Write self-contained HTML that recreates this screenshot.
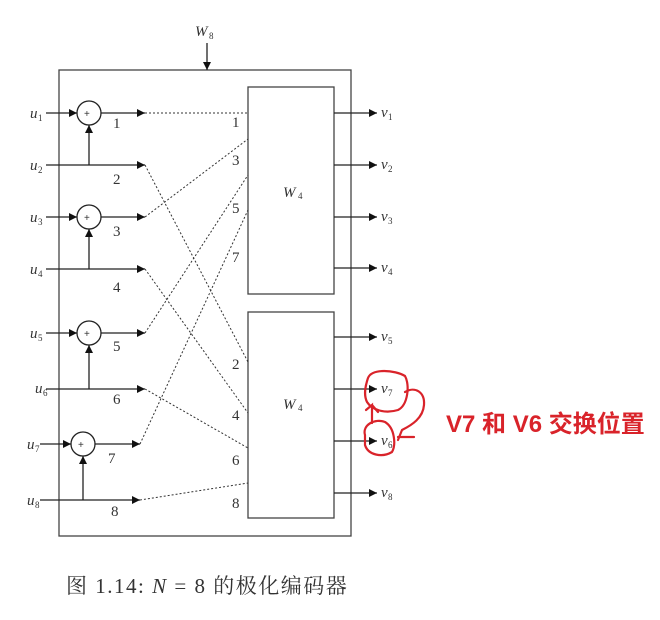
<!DOCTYPE html>
<html><head><meta charset="utf-8"><style>
html,body{margin:0;padding:0;background:#fff;}
svg{display:block;}
.i{font-family:"Liberation Serif",serif;font-style:italic;font-size:15px;fill:#333;}
.s{font-family:"Liberation Serif",serif;font-size:9px;fill:#333;}
.n{font-family:"Liberation Serif",serif;font-size:15px;fill:#333;}
</style></head><body>
<svg width="660" height="620" viewBox="0 0 660 620" xmlns="http://www.w3.org/2000/svg">
<defs>
<marker id="a" viewBox="0 0 10 10" refX="10" refY="5" markerWidth="12" markerHeight="8" markerUnits="userSpaceOnUse" orient="auto"><path d="M0,0L10,5L0,10z" fill="#111"/></marker>
</defs>
<g stroke="#444" stroke-width="1.3" fill="none">
<rect x="59" y="70" width="292" height="466"/>
<rect x="248" y="87" width="86" height="207"/>
<rect x="248" y="312" width="86" height="206"/>
</g>
<line x1="207" y1="43" x2="207" y2="70" stroke="#222" stroke-width="1.3" marker-end="url(#a)"/>
<text x="195" y="36" class="i">W</text><text x="209" y="39" class="s">8</text>

<g stroke="#222" stroke-width="1.3" fill="none">
<circle cx="89" cy="113" r="12"/><circle cx="89" cy="217" r="12"/><circle cx="89" cy="333" r="12"/><circle cx="83" cy="444" r="12"/>
<line x1="46" y1="113" x2="77" y2="113" marker-end="url(#a)"/>
<line x1="101" y1="113" x2="145" y2="113" marker-end="url(#a)"/>
<line x1="46" y1="217" x2="77" y2="217" marker-end="url(#a)"/>
<line x1="101" y1="217" x2="145" y2="217" marker-end="url(#a)"/>
<line x1="46" y1="333" x2="77" y2="333" marker-end="url(#a)"/>
<line x1="101" y1="333" x2="145" y2="333" marker-end="url(#a)"/>
<line x1="40" y1="444" x2="71" y2="444" marker-end="url(#a)"/>
<line x1="95" y1="444" x2="140" y2="444" marker-end="url(#a)"/>
<line x1="46" y1="165" x2="145" y2="165" marker-end="url(#a)"/>
<line x1="46" y1="269" x2="145" y2="269" marker-end="url(#a)"/>
<line x1="46" y1="389" x2="145" y2="389" marker-end="url(#a)"/>
<line x1="40" y1="500" x2="140" y2="500" marker-end="url(#a)"/>
<line x1="89" y1="165" x2="89" y2="125" marker-end="url(#a)"/>
<line x1="89" y1="269" x2="89" y2="229" marker-end="url(#a)"/>
<line x1="89" y1="389" x2="89" y2="345" marker-end="url(#a)"/>
<line x1="83" y1="500" x2="83" y2="456" marker-end="url(#a)"/>
<line x1="334" y1="113" x2="377" y2="113" marker-end="url(#a)"/>
<line x1="334" y1="165" x2="377" y2="165" marker-end="url(#a)"/>
<line x1="334" y1="217" x2="377" y2="217" marker-end="url(#a)"/>
<line x1="334" y1="268" x2="377" y2="268" marker-end="url(#a)"/>
<line x1="334" y1="337" x2="377" y2="337" marker-end="url(#a)"/>
<line x1="334" y1="389" x2="377" y2="389" marker-end="url(#a)"/>
<line x1="334" y1="441" x2="377" y2="441" marker-end="url(#a)"/>
<line x1="334" y1="493" x2="377" y2="493" marker-end="url(#a)"/>
</g>
<g fill="#333" font-family="Liberation Sans,sans-serif" font-size="10"><text x="84" y="117">+</text><text x="84" y="221">+</text><text x="84" y="337">+</text><text x="78" y="448">+</text></g>
<g stroke="#333" stroke-width="1" stroke-dasharray="2,2" fill="none">
<line x1="145" y1="113" x2="248" y2="113"/>
<line x1="145" y1="165" x2="248" y2="362"/>
<line x1="145" y1="217" x2="248" y2="139"/>
<line x1="145" y1="269" x2="248" y2="413"/>
<line x1="145" y1="333" x2="248" y2="175"/>
<line x1="145" y1="389" x2="248" y2="448"/>
<line x1="140" y1="444" x2="248" y2="210"/>
<line x1="140" y1="500" x2="248" y2="483"/>
</g>
<g>
<text x="30" y="118" class="i">u</text><text x="38" y="121" class="s">1</text>
<text x="30" y="170" class="i">u</text><text x="38" y="173" class="s">2</text>
<text x="30" y="222" class="i">u</text><text x="38" y="225" class="s">3</text>
<text x="30" y="274" class="i">u</text><text x="38" y="277" class="s">4</text>
<text x="30" y="338" class="i">u</text><text x="38" y="341" class="s">5</text>
<text x="35" y="393" class="i">u</text><text x="43" y="396" class="s">6</text>
<text x="27" y="449" class="i">u</text><text x="35" y="452" class="s">7</text>
<text x="27" y="505" class="i">u</text><text x="35" y="508" class="s">8</text>
</g>
<g>
<text x="113" y="128" class="n">1</text><text x="113" y="184" class="n">2</text><text x="113" y="236" class="n">3</text><text x="113" y="292" class="n">4</text>
<text x="113" y="351" class="n">5</text><text x="113" y="404" class="n">6</text><text x="108" y="463" class="n">7</text><text x="111" y="516" class="n">8</text>
<text x="232" y="127" class="n">1</text><text x="232" y="165" class="n">3</text><text x="232" y="213" class="n">5</text><text x="232" y="262" class="n">7</text>
<text x="232" y="369" class="n">2</text><text x="232" y="420" class="n">4</text><text x="232" y="465" class="n">6</text><text x="232" y="508" class="n">8</text>
</g>
<text x="283" y="197" class="i" font-size="18">W</text><text x="298" y="199" class="s">4</text>
<text x="283" y="409" class="i" font-size="18">W</text><text x="298" y="411" class="s">4</text>
<g>
<text x="381" y="117" class="i">v</text><text x="388" y="120" class="s">1</text>
<text x="381" y="169" class="i">v</text><text x="388" y="172" class="s">2</text>
<text x="381" y="221" class="i">v</text><text x="388" y="224" class="s">3</text>
<text x="381" y="272" class="i">v</text><text x="388" y="275" class="s">4</text>
<text x="381" y="341" class="i">v</text><text x="388" y="344" class="s">5</text>
<text x="381" y="393" class="i">v</text><text x="388" y="396" class="s">7</text>
<text x="381" y="445" class="i">v</text><text x="388" y="448" class="s">6</text>
<text x="381" y="497" class="i">v</text><text x="388" y="500" class="s">8</text>
</g>
<g stroke="#d9232a" stroke-width="2.2" fill="none" stroke-linecap="round">
<path d="M368,378 C372,368 395,370 405,376 C410,385 408,405 398,410 C385,414 372,410 367,402 C363,394 366,384 368,378Z"/>
<path d="M405,392 C415,386 425,392 424,405 C423,418 412,425 402,430 L398,440"/>
<path d="M365,435 C362,425 375,418 385,422 C395,428 396,445 392,452 C382,458 368,455 365,445Z"/>
<path d="M398,437 L414,437"/>
<path d="M372,423 L372,405 L366,410 M372,405 L378,412"/>
</g>
<text x="446" y="432" font-family="Liberation Sans,'Noto Sans CJK SC',sans-serif" font-weight="bold" font-size="24" fill="#d9232a">V7 和 V6 交换位置</text>
<text x="66" y="593" font-family="Liberation Serif,'Noto Serif CJK SC',serif" font-size="21" letter-spacing="1.5" fill="#333">图 1.14: <tspan font-style="italic">N</tspan> = 8 的极化编码器</text>
</svg>
</body></html>
